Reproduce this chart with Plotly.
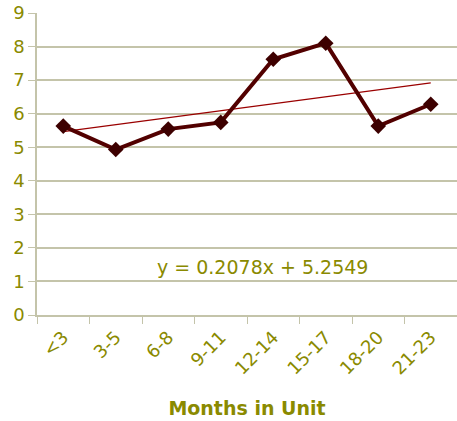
import plotly.graph_objects as go

categories = ["<3", "3-5", "6-8", "9-11", "12-14", "15-17", "18-20", "21-23"]
values = [5.63, 4.93, 5.54, 5.74, 7.62, 8.10, 5.63, 6.28]
trend_slope = 0.2078
trend_intercept = 5.2549
y_ticks = list(range(0, 10))

trend_vals = [trend_slope * (i + 1) + trend_intercept for i in range(len(categories))]

olive = "#8a8a00"
grid = "#c4c4aa"

fig = go.Figure()
fig.add_trace(go.Scatter(
    x=[categories[0], categories[-1]], y=[trend_vals[0], trend_vals[-1]],
    mode="lines", line=dict(color="#9a0000", width=1.2), hoverinfo="skip", showlegend=False))
fig.add_trace(go.Scatter(
    x=categories, y=values, mode="lines+markers",
    line=dict(color="#520000", width=4),
    marker=dict(symbol="diamond", size=12, color="#3d0000"),
    showlegend=False))

fig.add_annotation(
    x=0.538, y=0.165, xref="paper", yref="paper", yanchor="middle", xanchor="center",
    yshift=-2,
    text=f"y = {trend_slope}x + {trend_intercept}", showarrow=False,
    font=dict(family="DejaVu Sans, Verdana", size=19, color=olive))

fig.update_layout(
    width=457, height=421,
    margin=dict(l=37, r=0, t=13, b=106),
    plot_bgcolor="white", paper_bgcolor="white",
    font=dict(family="DejaVu Sans, Verdana", color=olive),
    xaxis=dict(
        type="category", range=[-0.5, 7.5], automargin=False,
        categoryorder="array", categoryarray=categories,
        tickangle=-45, tickfont=dict(size=18, color=olive), ticklabelstandoff=3,
        showgrid=False, showline=True, linecolor=grid, linewidth=1.5,
        ticks="outside", tickson="boundaries", ticklen=7, tickcolor=grid,
        title=dict(text="<b>Months in Unit</b>", font=dict(size=19, color=olive), standoff=24),
    ),
    yaxis=dict(
        range=[0, 9], tickvals=y_ticks, tickfont=dict(size=18, color=olive),
        automargin=False,
        showgrid=True, gridcolor=grid, gridwidth=1.5,
        showline=True, linecolor=grid, linewidth=1.5,
        ticks="outside", ticklen=7, tickcolor=grid, zeroline=False,
    ),
)

fig.write_html("out.html", config={"displayModeBar": False},
               post_script="document.body.style.margin='0';document.body.style.padding='0';")
